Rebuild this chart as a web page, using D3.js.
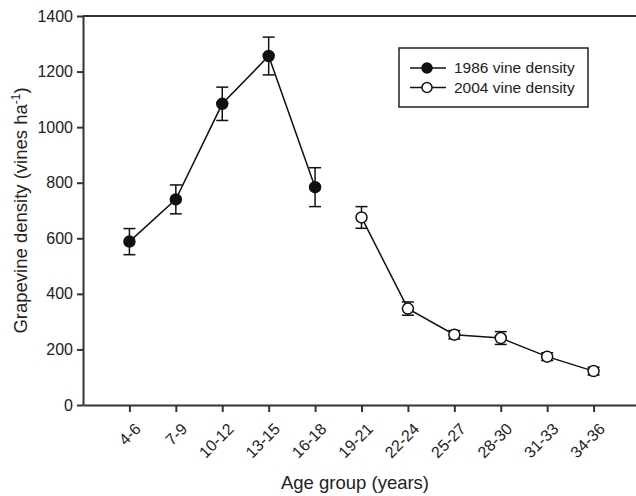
<!DOCTYPE html>
<html lang="en">
<head>
<meta charset="UTF-8">
<title>Grapevine density by age group</title>
<style>
  body { margin: 0; background: #fff; }
  svg { font-family: Arial, "Liberation Sans", sans-serif; }
  .axis text { font-size: 16px; fill: #222; }
  .axis path, .axis line { stroke: #333; stroke-width: 2px; }
</style>
</head>
<body>
<script src="https://d3js.org/d3.v7.min.js"></script>
<script>
var ageGroups = ["4-6", "7-9", "10-12", "13-15", "16-18", "19-21", "22-24", "25-27", "28-30", "31-33", "34-36"];

var groups1986 = ["4-6", "7-9", "10-12", "13-15", "16-18"];
var density1986 = [588, 740, 1084, 1256, 784];
var err1986 = [47, 52, 60, 68, 70];

var groups2004 = ["19-21", "22-24", "25-27", "28-30", "31-33", "34-36"];
var density2004 = [675, 347, 253, 241, 174, 122];
var err2004 = [39, 24, 15, 23, 14, 14];

var yTicks = [0, 200, 400, 600, 800, 1000, 1200, 1400];

var width = 636, height = 496;
var plotLeft = 83, plotTop = 16, plotBottom = 405;

var svg = d3.select("body").append("svg").attr("width", width).attr("height", height);

// x position by index of the age group; one spare slot either side
var xScale = d3.scaleLinear().domain([-1, ageGroups.length]).range([plotLeft, 640]);
var yScale = d3.scaleLinear().domain([0, 1400]).range([plotBottom, plotTop]);

function xOf(g) { return xScale(ageGroups.indexOf(g)); }

// top frame line
svg.append("line")
  .attr("x1", plotLeft).attr("x2", 640)
  .attr("y1", yScale(1400)).attr("y2", yScale(1400))
  .attr("stroke", "#333").attr("stroke-width", 2);

var axisx = d3.axisBottom(xScale)
  .tickValues(d3.range(ageGroups.length))
  .tickFormat(function(i) { return ageGroups[i]; })
  .tickSizeInner(7).tickSizeOuter(0);

var gx = svg.append("g").attr("class", "axis")
  .attr("transform", "translate(0," + plotBottom + ")")
  .call(axisx);
gx.selectAll("text")
  .attr("x", 0).attr("y", 0).attr("dy", "0.35em")
  .attr("font-size", 16.5)
  .attr("text-anchor", "end")
  .attr("transform", "translate(8,21) rotate(-45)");

var axisy = d3.axisLeft(yScale).tickValues(yTicks).tickFormat(d3.format("d"))
  .tickSizeInner(6).tickSizeOuter(0).tickPadding(4);
svg.append("g").attr("class", "axis")
  .attr("transform", "translate(" + plotLeft + ",0)")
  .call(axisy);

// axis titles
svg.append("text")
  .attr("x", 355).attr("y", 489)
  .attr("text-anchor", "middle")
  .attr("font-size", 18.5).attr("fill", "#222")
  .text("Age group (years)");

var ylab = svg.append("text")
  .attr("transform", "translate(27," + ((plotTop + plotBottom) / 2) + ") rotate(-90)")
  .attr("text-anchor", "middle")
  .attr("font-size", 18.5).attr("fill", "#222");
ylab.append("tspan").text("Grapevine density (vines ha");
ylab.append("tspan").attr("font-size", 12).attr("dy", -7).text("-1");
ylab.append("tspan").attr("dy", 7).text(")");

function drawSeries(groups, values, errs, filled) {
  var data = groups.map(function(g, i) { return { g: g, v: values[i], e: errs[i] }; });
  var line = d3.line()
    .x(function(d) { return xOf(d.g); })
    .y(function(d) { return yScale(d.v); });

  svg.append("path").datum(data)
    .attr("fill", "none").attr("stroke", "#111").attr("stroke-width", 1.5)
    .attr("d", line);

  var eb = svg.append("g").selectAll("g").data(data).enter().append("g")
    .attr("stroke", "#111").attr("stroke-width", 1.5);
  eb.append("line")
    .attr("x1", function(d) { return xOf(d.g); }).attr("x2", function(d) { return xOf(d.g); })
    .attr("y1", function(d) { return yScale(d.v + d.e); }).attr("y2", function(d) { return yScale(d.v - d.e); });
  [1, -1].forEach(function(s) {
    eb.append("line")
      .attr("x1", function(d) { return xOf(d.g) - 6; }).attr("x2", function(d) { return xOf(d.g) + 6; })
      .attr("y1", function(d) { return yScale(d.v + s * d.e); }).attr("y2", function(d) { return yScale(d.v + s * d.e); });
  });

  svg.append("g").selectAll("circle").data(data).enter().append("circle")
    .attr("cx", function(d) { return xOf(d.g); })
    .attr("cy", function(d) { return yScale(d.v); })
    .attr("r", 5.5)
    .attr("fill", filled ? "#111" : "#fff")
    .attr("stroke", "#111").attr("stroke-width", 1.5);
}

drawSeries(groups1986, density1986, err1986, true);
drawSeries(groups2004, density2004, err2004, false);

// legend
var legend = svg.append("g").attr("transform", "translate(399,48)");
legend.append("rect")
  .attr("width", 189).attr("height", 59)
  .attr("fill", "#fff").attr("stroke", "#222").attr("stroke-width", 1.5);
var items = [{ label: "1986 vine density", filled: true }, { label: "2004 vine density", filled: false }];
var li = legend.selectAll("g.item").data(items).enter().append("g")
  .attr("transform", function(d, i) { return "translate(0," + (20 + i * 19.5) + ")"; });
li.append("line").attr("x1", 11).attr("x2", 47).attr("stroke", "#111").attr("stroke-width", 1.5);
li.append("circle").attr("cx", 28).attr("r", 5)
  .attr("fill", function(d) { return d.filled ? "#111" : "#fff"; })
  .attr("stroke", "#111").attr("stroke-width", 1.5);
li.append("text").attr("x", 55).attr("dy", "0.35em")
  .attr("font-size", 15.5).attr("fill", "#222")
  .text(function(d) { return d.label; });
</script>
</body>
</html>
